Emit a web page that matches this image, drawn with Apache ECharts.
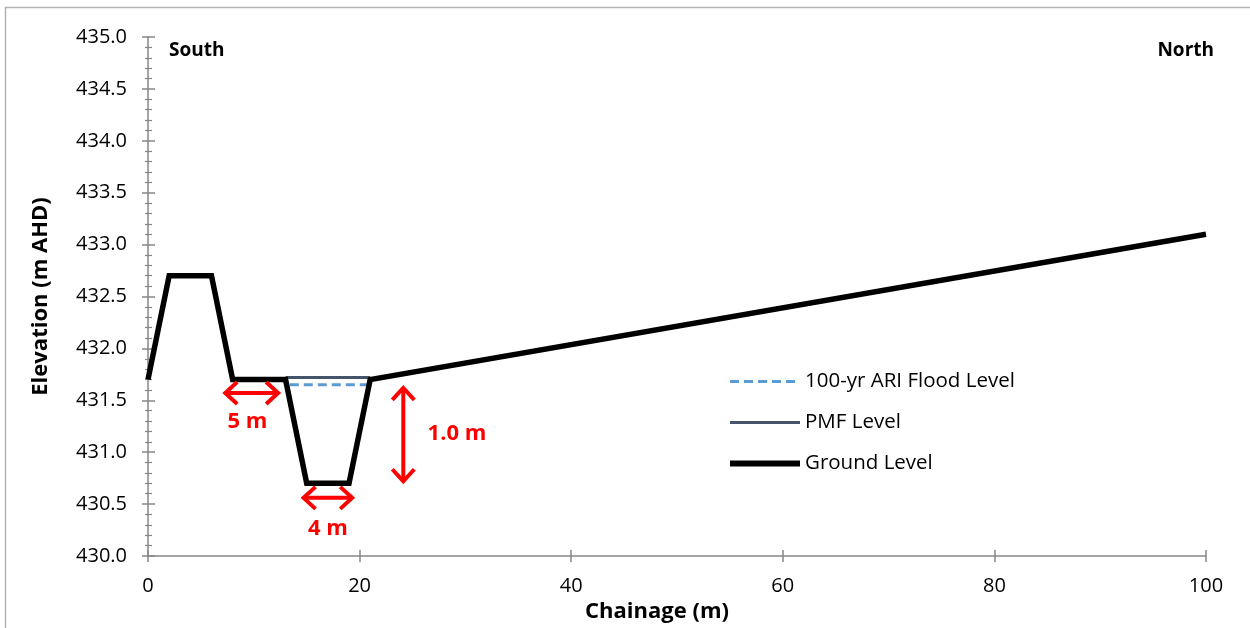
<!DOCTYPE html>
<html>
<head>
<meta charset="utf-8">
<script src="https://cdn.jsdelivr.net/npm/echarts@6/dist/echarts.min.js"></script>
<style>
html,body{margin:0;padding:0;background:#fff;}
#chart{width:1250px;height:628px;}
</style>
</head>
<body>
<div id="chart"></div>
<script>
// ---- data ----
var groundChainage = [0, 2, 6, 8, 13, 15, 19, 21, 100];
var groundLevel    = [431.7, 432.7, 432.7, 431.7, 431.7, 430.7, 430.7, 431.7, 433.1];
var pmfChainage    = [13, 21];
var pmfLevel       = [431.72, 431.72];
var floodChainage  = [13.4, 20.7];
var floodLevel     = [431.65, 431.65];
var yTicks = [430, 435, 0.5];
var xTicks = [0, 100, 20];
// annotation arrows: [x1, y1, x2, y2]
var arrows = [
  [7.3, 431.57, 12.3, 431.57],
  [14.7, 430.56, 19.3, 430.56],
  [24.13, 431.62, 24.13, 430.72]
];
// annotation labels: [x, y, text]
var labels = [
  [9.4, 431.29, '5 m'],
  [17.0, 430.26, '4 m'],
  [29.2, 431.18, '1.0 m']
];

function pairs(xs, ys){ return xs.map(function(x,i){return [x, ys[i]];}); }

var FONT = '"Open Sans", "Liberation Sans", sans-serif';
var AXIS_COLOR = '#868686';
var RED = '#ff0000';

var chart = echarts.init(document.getElementById('chart'), null, {renderer:'canvas'});

function arrowRender(params, api){
  var p1 = api.coord([api.value(0), api.value(1)]);
  var p2 = api.coord([api.value(2), api.value(3)]);
  var dx = p2[0]-p1[0], dy = p2[1]-p1[1];
  var len = Math.sqrt(dx*dx+dy*dy); var ux = dx/len, uy = dy/len;
  var nx = -uy, ny = ux;
  var h = 12, w = 11;
  function head(p, dir){
    return [[p[0]+dir*ux*h+nx*w, p[1]+dir*uy*h+ny*w],[p[0],p[1]],[p[0]+dir*ux*h-nx*w, p[1]+dir*uy*h-ny*w]];
  }
  var style = {stroke: RED, lineWidth: 4, fill: null, lineJoin:'miter', lineCap:'butt'};
  return {type:'group', children:[
    {type:'line', shape:{x1:p1[0]+ux*2,y1:p1[1]+uy*2,x2:p2[0]-ux*2,y2:p2[1]-uy*2}, style:style},
    {type:'polyline', shape:{points: head(p1, 1)}, style:style},
    {type:'polyline', shape:{points: head(p2, -1)}, style:style}
  ]};
}
function labelRender(params, api){
  var p = api.coord([api.value(0), api.value(1)]);
  return {type:'text', x:p[0], y:p[1], style:{text: labels[params.dataIndex][2], fill: RED,
    font: 'bold 22px ' + FONT, align:'center', verticalAlign:'middle'}};
}

var option = {
  backgroundColor:'#fff',
  animation:false,
  grid:{left:148, right:44, top:37, bottom:72, containLabel:false},
  legend:{
    orient:'vertical', left:722, top:366, itemGap:20, itemWidth:70, itemHeight:22,
    itemStyle:{opacity:0},
    textStyle:{fontFamily:FONT, fontSize:20.5, color:'#000'},
    data:[
      {name:'100-yr ARI Flood Level', lineStyle:{width:3, type:[9,5]}},
      {name:'PMF Level', lineStyle:{width:3}},
      {name:'Ground Level', lineStyle:{width:6}}
    ]
  },
  xAxis:[{
    type:'value', min:xTicks[0], max:xTicks[1], interval:xTicks[2],
    name:'Chainage (m)', nameLocation:'middle', nameGap:38,
    nameTextStyle:{fontFamily:FONT, fontSize:22, fontWeight:'bold', color:'#000', padding:[0,40,0,0]},
    axisLine:{lineStyle:{color:AXIS_COLOR, width:1.5}},
    axisTick:{show:true, length:6, lineStyle:{color:AXIS_COLOR, width:1.5}},
    axisLabel:{fontFamily:FONT, fontSize:20, color:'#000', margin:20},
    splitLine:{show:false}
  },{
    type:'value', min:xTicks[0], max:xTicks[1], interval:xTicks[2], position:'bottom',
    axisLine:{show:false}, axisLabel:{show:false}, splitLine:{show:false},
    axisTick:{show:true, inside:true, length:6, lineStyle:{color:AXIS_COLOR, width:1.5}}
  }],
  yAxis:[{
    type:'value', min:yTicks[0], max:yTicks[1], interval:yTicks[2],
    name:'Elevation (m AHD)', nameLocation:'middle', nameGap:96, nameRotate:90,
    nameTextStyle:{fontFamily:FONT, fontSize:22, fontWeight:'bold', color:'#000'},
    axisLine:{show:true, lineStyle:{color:AXIS_COLOR, width:1.5}},
    axisTick:{show:true, length:6, lineStyle:{color:AXIS_COLOR, width:1.5}},
    minorTick:{show:true, splitNumber:5, length:3, lineStyle:{color:AXIS_COLOR, width:1.2}},
    axisLabel:{fontFamily:FONT, fontSize:20, color:'#000', margin:21,
      formatter:function(v){return v.toFixed(1);}},
    splitLine:{show:false}
  },{
    type:'value', min:yTicks[0], max:yTicks[1], interval:yTicks[2], position:'left',
    axisLine:{show:false}, axisLabel:{show:false}, splitLine:{show:false},
    axisTick:{show:true, inside:true, length:7, lineStyle:{color:AXIS_COLOR, width:1.5}},
    minorTick:{show:true, splitNumber:5, length:4, lineStyle:{color:AXIS_COLOR, width:1.2}}
  }],
  graphic:[
    {type:'rect', shape:{x:5.5, y:7.5, width:1260, height:640}, style:{fill:null, stroke:'#b3b3b3', lineWidth:1.5}, silent:true},
    {type:'text', left:169, top:41, style:{text:'South', font:'bold 19px ' + FONT, fill:'#000'}},
    {type:'text', right:36, top:41, style:{text:'North', font:'bold 19px ' + FONT, fill:'#000'}}
  ],
  series:[
    {name:'100-yr ARI Flood Level', type:'line', data:pairs(floodChainage, floodLevel), symbol:'none',
     lineStyle:{color:'#5b9bd5', width:3, type:[9,5]}, itemStyle:{color:'#5b9bd5'}, z:3},
    {name:'PMF Level', type:'line', data:pairs(pmfChainage, pmfLevel), symbol:'none',
     lineStyle:{color:'#44546a', width:3}, itemStyle:{color:'#44546a'}, z:2},
    {name:'Ground Level', type:'line', data:pairs(groundChainage, groundLevel), symbol:'none',
     lineStyle:{color:'#000', width:5.5, join:'miter'}, itemStyle:{color:'#000'}, z:4},
    {type:'custom', data:arrows, renderItem:arrowRender, silent:true, z:5},
    {type:'custom', data:labels.map(function(l){return [l[0], l[1]];}), renderItem:labelRender, silent:true, z:5}
  ]
};
chart.setOption(option);
</script>
</body>
</html>
